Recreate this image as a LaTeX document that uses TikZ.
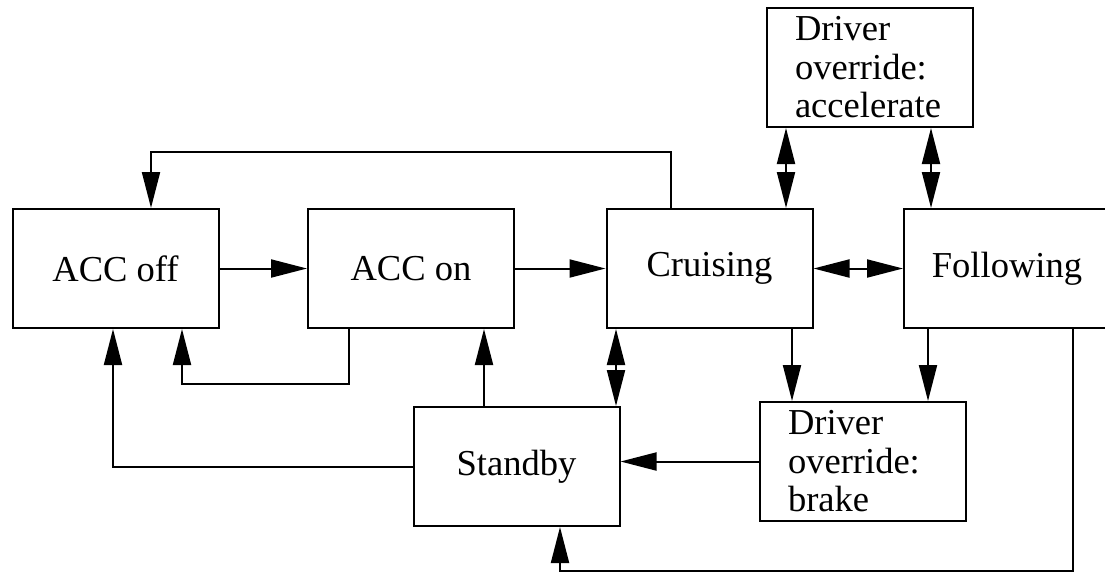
\documentclass[tikz,border=0pt]{standalone}
\usepackage{fontspec}
\setmainfont{Liberation Serif}
\newfontfamily\statefont{Liberation Serif}
\usepackage{tikz}
\usetikzlibrary{arrows.meta,positioning}

\begin{document}
\begin{tikzpicture}[x=0.75pt,y=-0.75pt,
    state/.style={draw,line width=1.5pt,minimum width=154.5pt,minimum height=89.25pt,inner sep=0pt,
      font=\statefont\fontsize{27.4pt}{28.9pt}\selectfont},
    override/.style={state,text width=112.5pt,align=left},
    arr/.style={line width=1.5pt,-{Triangle[length=27pt,width=13.5pt]}},
    dbl/.style={line width=1.5pt,{Triangle[length=27pt,width=13.5pt]}-{Triangle[length=27pt,width=13.5pt]}}]
      \useasboundingbox (0,0) rectangle (1105,572);

      % States
      \node[state] (accoff) at (115.5,268.5) {ACC off};
      \node[state] (accon) at (411,268.5) {ACC on};
      \node[state] (cruising) at (709.5,268.5) {Cruising};
      \node[state] (following) at (1007,268.5) {Following};
      \node[state] (standby) at (516.5,466.5) {Standby};
      \node[override] (accel) at (870,67.5) {Driver\\override:\\accelerate};
      \node[override] (brake) at (863,461.5) {Driver\\override:\\brake};

      % Bends
      \coordinate (ret1) at (671,152);
      \coordinate (ret2) at (151,152);
      \coordinate (back1) at (349,384);
      \coordinate (back2) at (182,384);
      \coordinate (offleft) at (113,466.5);
      \coordinate (low1) at (1073,570.5);
      \coordinate (low2) at (560,570.5);

      % Main row
      \draw[arr] (accoff) -- (accon);
      \draw[arr] (accon) -- (cruising);
      \draw[dbl] (cruising) -- (following);

      % Back to ACC off
      \draw[arr] (cruising.north -| ret1) -- (ret1) -- (ret2) -- (accoff.north -| ret2);
      \draw[arr] (accon.south -| back1) -- (back1) -- (back2) -- (accoff.south -| back2);
      \draw[arr] (standby.west) -- (offleft) -- (accoff.south -| offleft);

      % Standby links
      \draw[arr] (standby.north -| 484,0) -- (accon.south -| 484,0);
      \draw[dbl] (cruising.south -| 616,0) -- (standby.north -| 616,0);
      \draw[arr] (brake.west) -- (brake.west -| standby.east);
      \draw[arr] (following.south -| low1) -- (low1) -- (low2) -- (standby.south -| low2);

      % Driver overrides
      \draw[arr] (cruising.south -| 792,0) -- (brake.north -| 792,0);
      \draw[arr] (following.south -| 928,0) -- (brake.north -| 928,0);
      \draw[dbl] (accel.south -| 786,0) -- (cruising.north -| 786,0);
      \draw[dbl] (accel.south -| 931,0) -- (following.north -| 931,0);
    \end{tikzpicture}
\end{document}
